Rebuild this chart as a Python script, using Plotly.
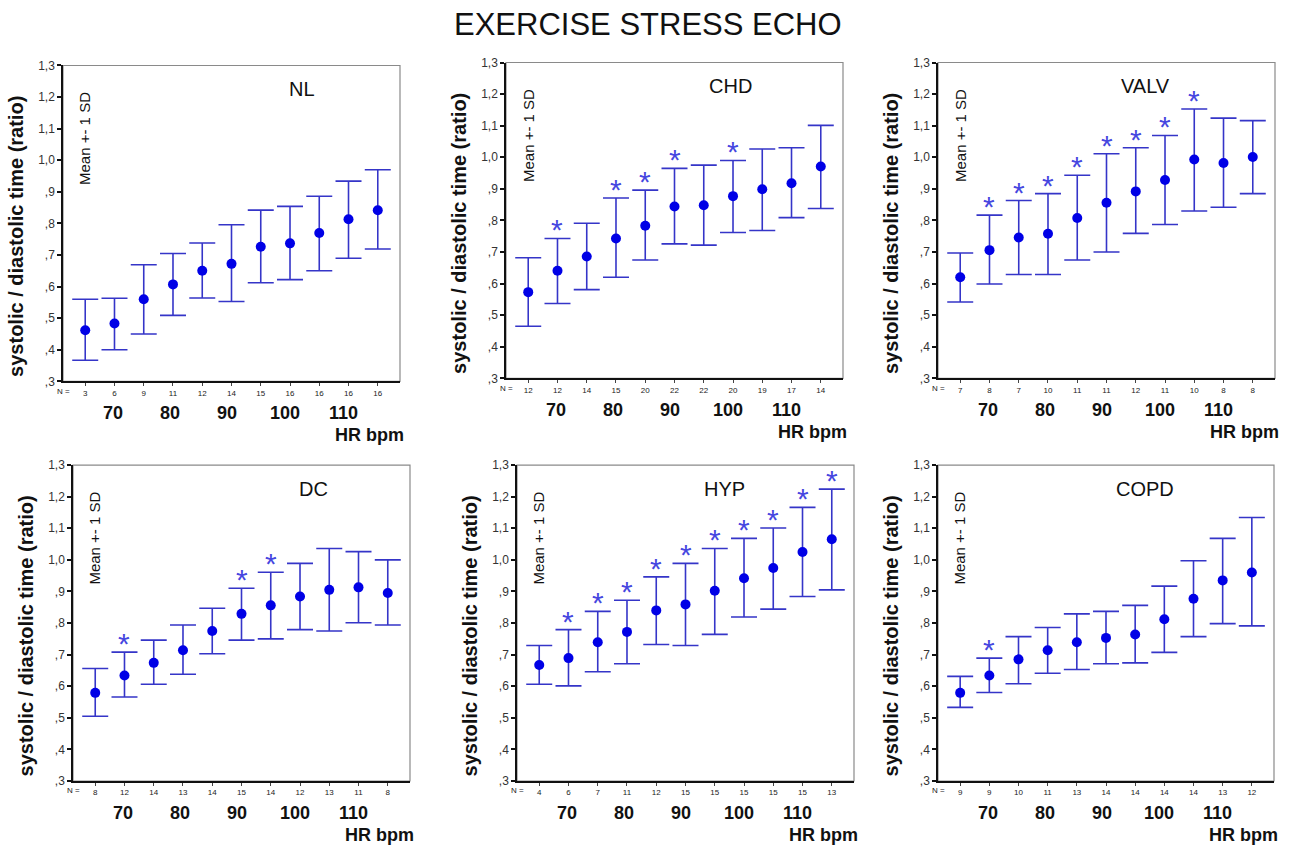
import plotly.graph_objects as go

# ---------------- data ----------------
panel_names = ["NL", "CHD", "VALV", "DC", "HYP", "COPD"]
categories = list(range(1, 12))

nl_mean  = [0.462, 0.483, 0.560, 0.607, 0.650, 0.672, 0.726, 0.737, 0.770, 0.813, 0.842]
nl_upper = [0.560, 0.563, 0.669, 0.705, 0.738, 0.796, 0.842, 0.854, 0.886, 0.934, 0.970]
nl_lower = [0.367, 0.400, 0.450, 0.509, 0.564, 0.553, 0.612, 0.622, 0.650, 0.690, 0.719]
nl_n     = [3, 6, 9, 11, 12, 14, 15, 16, 16, 16, 16]
nl_star  = []

chd_mean  = [0.573, 0.641, 0.686, 0.743, 0.783, 0.844, 0.848, 0.877, 0.899, 0.918, 0.971]
chd_upper = [0.682, 0.743, 0.791, 0.871, 0.896, 0.965, 0.975, 0.990, 1.026, 1.030, 1.101]
chd_lower = [0.465, 0.537, 0.581, 0.620, 0.675, 0.726, 0.722, 0.762, 0.768, 0.809, 0.838]
chd_n     = [12, 12, 14, 15, 20, 22, 22, 20, 19, 17, 14]
chd_star  = [2, 4, 5, 6, 8]

valv_mean  = [0.620, 0.706, 0.746, 0.758, 0.808, 0.856, 0.892, 0.928, 0.993, 0.982, 1.001]
valv_upper = [0.697, 0.817, 0.863, 0.885, 0.943, 1.011, 1.030, 1.069, 1.153, 1.124, 1.116]
valv_lower = [0.542, 0.599, 0.629, 0.629, 0.675, 0.700, 0.759, 0.787, 0.830, 0.842, 0.885]
valv_n     = [7, 8, 7, 10, 11, 11, 12, 11, 10, 8, 8]
valv_star  = [2, 3, 4, 5, 6, 7, 8, 9]

dc_mean  = [0.579, 0.634, 0.674, 0.714, 0.775, 0.829, 0.856, 0.884, 0.905, 0.913, 0.895]
dc_upper = [0.656, 0.708, 0.746, 0.794, 0.847, 0.910, 0.961, 0.989, 1.036, 1.026, 1.000]
dc_lower = [0.505, 0.566, 0.606, 0.638, 0.703, 0.746, 0.750, 0.779, 0.775, 0.801, 0.794]
dc_n     = [8, 12, 14, 13, 14, 15, 14, 12, 13, 11, 8]
dc_star  = [2, 6, 7]

hyp_mean  = [0.667, 0.689, 0.739, 0.772, 0.840, 0.859, 0.902, 0.942, 0.974, 1.025, 1.065]
hyp_upper = [0.729, 0.779, 0.837, 0.872, 0.946, 0.989, 1.036, 1.068, 1.101, 1.166, 1.224]
hyp_lower = [0.606, 0.601, 0.646, 0.671, 0.732, 0.729, 0.764, 0.819, 0.844, 0.884, 0.905]
hyp_n     = [4, 6, 7, 11, 12, 15, 15, 15, 15, 15, 13]
hyp_star  = [2, 3, 4, 5, 6, 7, 8, 9, 10, 11]

copd_mean  = [0.579, 0.634, 0.685, 0.714, 0.739, 0.753, 0.764, 0.812, 0.877, 0.935, 0.960]
copd_upper = [0.631, 0.689, 0.757, 0.786, 0.829, 0.837, 0.856, 0.917, 0.997, 1.068, 1.134]
copd_lower = [0.533, 0.580, 0.608, 0.641, 0.653, 0.671, 0.674, 0.707, 0.757, 0.798, 0.791]
copd_n     = [9, 9, 10, 11, 13, 14, 14, 14, 14, 13, 12]
copd_star  = [2]

y_tick_vals = [0.3, 0.4, 0.5, 0.6, 0.7, 0.8, 0.9, 1.0, 1.1, 1.2, 1.3]
y_tick_text = [",3", ",4", ",5", ",6", ",7", ",8", ",9", "1,0", "1,1", "1,2", "1,3"]
hr_labels = ["70", "80", "90", "100", "110"]

title_text = "EXERCISE STRESS ECHO"
y_title = "systolic / diastolic time (ratio)"
sd_text = "Mean +- 1 SD"
x_title = "HR bpm"

panels = [
    (nl_mean, nl_upper, nl_lower, nl_n, nl_star),
    (chd_mean, chd_upper, chd_lower, chd_n, chd_star),
    (valv_mean, valv_upper, valv_lower, valv_n, valv_star),
    (dc_mean, dc_upper, dc_lower, dc_n, dc_star),
    (hyp_mean, hyp_upper, hyp_lower, hyp_n, hyp_star),
    (copd_mean, copd_upper, copd_lower, copd_n, copd_star),
]

# ---------------- layout / style ----------------
W, H = 1290, 851
boxes = [(63, 64, 400, 381), (506, 61, 843, 378), (938, 61, 1275, 378),
         (73, 465, 410, 782), (517, 465, 854, 782), (938, 465, 1274, 782)]
label_pos = [8.41, 7.9, 7.32, 8.45, 7.35, 7.35]
hr_pos = [1.95, 3.9, 5.85, 7.83, 9.83]


def vy(y):
    # vertical pixel placement (compensates the page capture offset)
    return (y - 5.3) / 0.987


FONT = "Arial, 'Liberation Sans', sans-serif"
MARK = "#0000e6"
ERR = "#3535c8"
STAR = "#4646e0"

fig = go.Figure()
annotations = []
shapes = []
layout_axes = {}

for i, (mean, upper, lower, nvals, stars) in enumerate(panels):
    k = "" if i == 0 else str(i + 1)
    xa, ya = "x" + k, "y" + k
    x0, y0, x1, y1 = boxes[i]
    plus = [u - m for u, m in zip(upper, mean)]
    minus = [m - l for m, l in zip(mean, lower)]
    fig.add_trace(go.Scatter(
        x=categories, y=mean, mode="markers",
        marker=dict(size=10, color=MARK),
        error_y=dict(type="data", symmetric=False, array=plus, arrayminus=minus,
                     color=ERR, thickness=1.6, width=13),
        xaxis=xa, yaxis=ya, showlegend=False, hoverinfo="skip"))

    layout_axes["xaxis" + k] = dict(
        domain=[x0 / W, x1 / W], range=[0.24, 11.76], anchor=ya,
        tickvals=categories, ticktext=[str(v) for v in nvals],
        tickfont=dict(size=8, color="#222", family=FONT),
        ticks="outside", ticklen=3, tickwidth=1, tickcolor="#444",
        showline=True, linecolor="#111", linewidth=1.5,
        showgrid=False, zeroline=False, fixedrange=True)
    layout_axes["yaxis" + k] = dict(
        domain=[1 - vy(y1) / H, 1 - vy(y0) / H], range=[0.3, 1.3], anchor=xa,
        tickvals=y_tick_vals, ticktext=y_tick_text,
        tickfont=dict(size=12, color="#333", family=FONT),
        ticks="outside", ticklen=4, tickwidth=2, tickcolor="#111",
        showline=True, linecolor="#111", linewidth=1.5,
        showgrid=False, zeroline=False, fixedrange=True)

    shapes.append(dict(type="rect", xref=xa + " domain", yref=ya + " domain",
                       x0=0, x1=1, y0=0, y1=1, line=dict(color="#8a8a8a", width=1.2),
                       layer="below"))

    # panel name
    annotations.append(dict(text=panel_names[i], xref=xa, yref=ya, x=label_pos[i], y=1.225,
                            showarrow=False, font=dict(size=20, color="#111", family=FONT)))
    # Mean +- 1 SD
    annotations.append(dict(text=sd_text, xref=xa + " domain", yref=ya + " domain",
                            x=0, y=1, xanchor="center", yanchor="top", xshift=22, yshift=-25,
                            textangle=-90, showarrow=False,
                            font=dict(size=15, color="#111", family=FONT)))
    # y title
    annotations.append(dict(text="<b>" + y_title + "</b>", xref=xa + " domain", yref=ya + " domain",
                            x=0, y=0, xanchor="center", yanchor="bottom", xshift=-47, yshift=2,
                            textangle=-90, showarrow=False,
                            font=dict(size=20, color="#111", family=FONT)))
    # N =
    annotations.append(dict(text="N =", xref=xa + " domain", yref=ya + " domain",
                            x=0, y=0, xanchor="center", yanchor="middle", yshift=-10,
                            showarrow=False, font=dict(size=8, color="#222", family=FONT)))
    # HR labels
    for lab, pos in zip(hr_labels, hr_pos):
        annotations.append(dict(text="<b>" + lab + "</b>", xref=xa, yref=ya + " domain",
                                x=pos, y=0, yanchor="middle", yshift=-32, showarrow=False,
                                font=dict(size=18, color="#111", family=FONT)))
    annotations.append(dict(text="<b>" + x_title + "</b>", xref=xa + " domain", yref=ya + " domain",
                            x=1, y=0, xanchor="right", yanchor="middle", xshift=6, yshift=-54,
                            showarrow=False, font=dict(size=18, color="#111", family=FONT)))
    # significance stars
    for c in stars:
        annotations.append(dict(text="*", xref=xa, yref=ya, x=c, y=upper[c - 1],
                                yanchor="bottom", yshift=-10, showarrow=False,
                                font=dict(size=30, color=STAR, family=FONT)))

annotations.append(dict(text=title_text, xref="paper", yref="paper", x=648 / W, y=1 - vy(23) / H,
                        xanchor="center", yanchor="middle", showarrow=False,
                        font=dict(size=31, color="#111", family=FONT)))

fig.update_layout(width=W, height=H, margin=dict(l=0, r=0, t=0, b=0),
                  paper_bgcolor="white", plot_bgcolor="white",
                  annotations=annotations, shapes=shapes, **layout_axes)

post = (
    "document.documentElement.style.margin='0';"
    "document.body.style.margin='0';"
    "document.body.style.overflow='hidden';"
    "document.documentElement.style.overflow='hidden';"
    "var gd=document.getElementById('{plot_id}');"
    "gd.style.position='fixed';gd.style.left='0px';gd.style.top='0px';"
)
fig.write_html("out.html", config={"displayModeBar": False}, post_script=post)
